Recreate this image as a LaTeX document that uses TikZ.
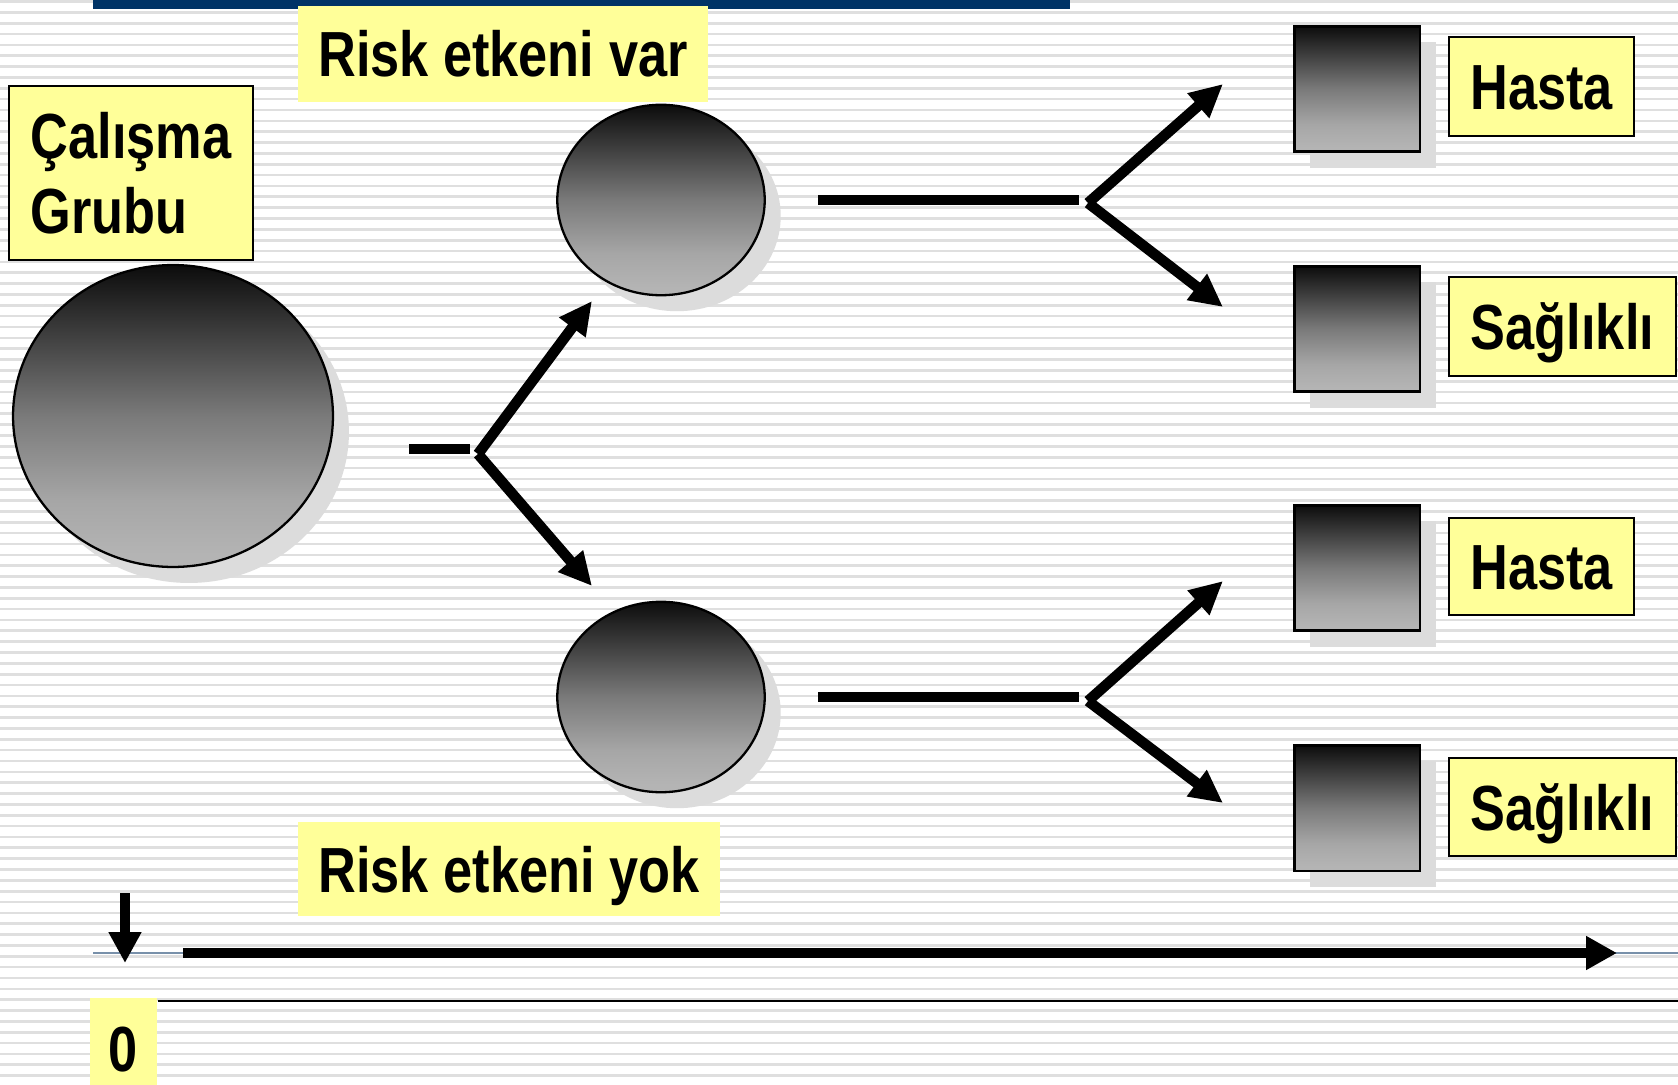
\documentclass[tikz,border=0pt]{standalone}
\usepackage{fontspec}
\newfontfamily\lblfont{Liberation Sans}[FakeStretch=0.82]
\usetikzlibrary{arrows.meta,shapes.geometric,shadows}

\definecolor{notefill}{HTML}{FFFF99}
\definecolor{stripegray}{HTML}{DFDFDF}
\definecolor{shadowgray}{HTML}{DCDCDC}
\definecolor{navy}{HTML}{003366}
\definecolor{axisblue}{HTML}{7890AA}
\definecolor{gbot}{HTML}{B4B4B4}
\definecolor{glow}{HTML}{A6A6A6}
\definecolor{gmid}{HTML}{7A7A7A}
\definecolor{gtop}{HTML}{0C0C0C}
\pgfdeclareverticalshading{grayball}{100bp}{color(0bp)=(gbot); color(27bp)=(gbot); color(36bp)=(glow); color(50bp)=(gmid); color(75bp)=(gtop); color(100bp)=(gtop)}

\tikzset{
  stripe/.style={line width=1.5pt, draw=stripegray},
  label/.style={fill=notefill, inner sep=0pt, text=black,
    font=\lblfont\bfseries\fontsize{36.3}{43}\selectfont},
  oneline/.style={label, text height=0.92cm, text depth=0pt},
  framed/.style={draw=black, line width=1.4pt},
  shadowed/.style={drop shadow={shadow xshift=0.32cm, shadow yshift=-0.32cm,
    fill=shadowgray, opacity=1}},
  ball/.style={ellipse, draw=black, line width=1.3pt, shade, shading=grayball,
    inner sep=0pt, shadowed},
  cell/.style={rectangle, draw=black, line width=1.7pt, shade, shading=grayball,
    minimum size=2.52cm, inner sep=0pt, shadowed},
  bar/.style={line width=6pt},
  branch/.style={line width=6pt, -{Triangle[length=0.66cm,width=0.62cm]}}
}

\begin{document}
\begin{tikzpicture}[x=0.02cm, y=-0.02cm]
  %%%%% background %%%%%
  \useasboundingbox (0,0) rectangle (1678,1085);
  \fill[white] (0,0) rectangle (1678,1085);
  \foreach \i in {0,...,99}
    \draw[stripe] (0,{1.5+10.85*\i}) -- (1678,{1.5+10.85*\i});
  \fill[navy] (93,0) rectangle (1070,9);

  %%%%% groups %%%%%
  \node[ball, minimum width=6.4cm, minimum height=6.04cm] (grp) at (173,416) {};
  \node[ball, minimum width=4.15cm, minimum height=3.81cm] (expo) at (661,200) {};
  \node[ball, minimum width=4.15cm, minimum height=3.81cm] (noexpo) at (661,697) {};

  \foreach \y/\nm in {89/out1, 329/out2, 568/out3, 808/out4}
    \node[cell] (\nm) at (1357,\y) {};

  %%%%% labels %%%%%
  \node[label, framed, align=left, minimum width=4.88cm, minimum height=3.48cm]
    (grplbl) at (131,173) {Çalışma\\Grubu};
  \node[oneline, minimum width=8.2cm, minimum height=1.92cm] (varlbl) at (503,54) {Risk etkeni var};
  \node[oneline, minimum width=8.44cm, minimum height=1.88cm] (yoklbl) at (509,869) {Risk etkeni yok};
  \node[oneline, framed, minimum width=3.7cm, minimum height=1.98cm] (hasta1) at (1541.5,86.5) {Hasta};
  \node[oneline, framed, minimum width=4.54cm, minimum height=1.98cm] (saglik1) at (1562.5,326.5) {Sağlıklı};
  \node[oneline, framed, minimum width=3.7cm, minimum height=1.94cm] (hasta2) at (1541.5,566.5) {Hasta};
  \node[oneline, framed, minimum width=4.54cm, minimum height=1.96cm] (saglik2) at (1562.5,807) {Sağlıklı};
  \node[oneline, minimum width=1.34cm, minimum height=2cm] (zero) at (123.5,1048) {0};

  %%%%% branches %%%%%
  \coordinate (a0) at (409,449);  \coordinate (a1) at (470,449);
  \coordinate (fa) at (478,454);
  \coordinate (ta) at (592,301);  \coordinate (tb) at (592,586);
  \draw[bar] (a0) -- (a1);
  \draw[branch] (fa) -- (ta);
  \draw[branch] (fa) -- (tb);

  \coordinate (b0) at (818,200);  \coordinate (b1) at (1079,200);
  \coordinate (fb) at (1088,203);
  \coordinate (tc) at (1223,84);  \coordinate (td) at (1223,307);
  \draw[bar] (b0) -- (b1);
  \draw[branch] (fb) -- (tc);
  \draw[branch] (fb) -- (td);

  \coordinate (c0) at (818,697);  \coordinate (c1) at (1079,697);
  \coordinate (fc) at (1088,701);
  \coordinate (te) at (1223,581); \coordinate (tf) at (1223,803);
  \draw[bar] (c0) -- (c1);
  \draw[branch] (fc) -- (te);
  \draw[branch] (fc) -- (tf);

  %%%%% time axis %%%%%
  \coordinate (ax0) at (93,953);   \coordinate (ax1) at (1678,953);
  \coordinate (tm0) at (183,953);  \coordinate (tm1) at (1617,953);
  \coordinate (dn0) at (125,893);  \coordinate (dn1) at (125,963);
  \coordinate (bl0) at (158,1001); \coordinate (bl1) at (1678,1001);
  \draw[axisblue, line width=0.9pt] (ax0) -- (ax1);
  \draw[line width=6.2pt, -{Triangle[length=0.62cm,width=0.64cm]}] (tm0) -- (tm1);
  \draw[line width=5.7pt, -{Triangle[length=0.62cm,width=0.62cm]}] (dn0) -- (dn1);
  \draw[line width=1.2pt] (bl0) -- (bl1);
\end{tikzpicture}
\end{document}
